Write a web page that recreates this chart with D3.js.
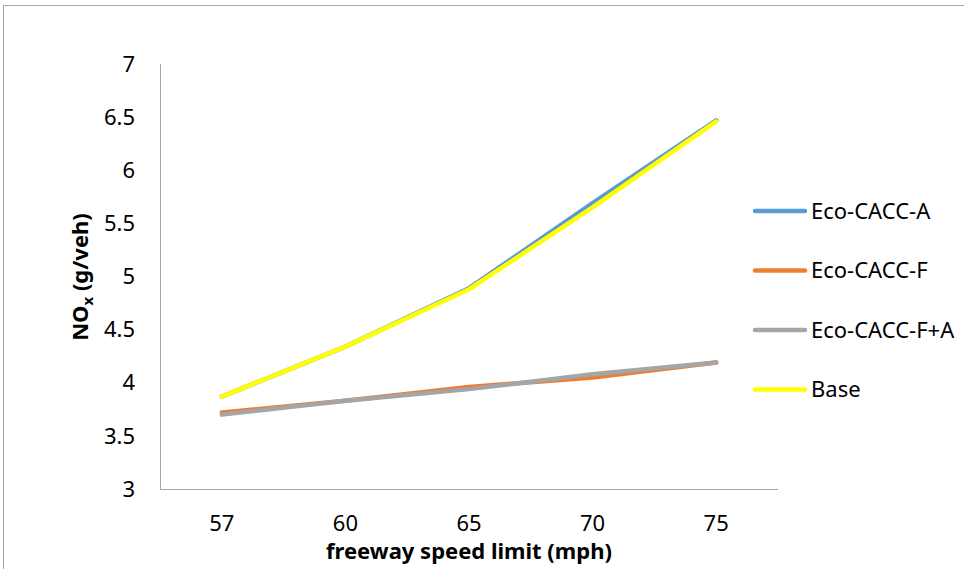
<!DOCTYPE html>
<html>
<head>
<meta charset="utf-8">
<script src="https://cdn.jsdelivr.net/npm/d3@7"></script>
<style>
  body { margin: 0; background: #fff; }
  svg { display: block; font-family: 'Noto Sans', sans-serif; }
</style>
</head>
<body>
<svg width="964" height="569"></svg>
<script>
const speeds = ['57', '60', '65', '70', '75']
const ecoA = [3.87, 4.34, 4.89, 5.69, 6.47]
const ecoF = [3.72, 3.83, 3.96, 4.05, 4.19]
const ecoFA = [3.70, 3.83, 3.94, 4.08, 4.19]
const base = [3.87, 4.34, 4.88, 5.65, 6.46]
const yTicks = [3, 3.5, 4, 4.5, 5, 5.5, 6, 6.5, 7]

const series = [
  { name: 'Eco-CACC-A', values: ecoA, color: '#5B9BD5' },
  { name: 'Eco-CACC-F', values: ecoF, color: '#ED7D31' },
  { name: 'Eco-CACC-F+A', values: ecoFA, color: '#A5A5A5' },
  { name: 'Base', values: base, color: '#FFFF00' },
]

const svg = d3.select('svg')

// outer chart border
svg.append('rect')
  .attr('x', 3.5).attr('y', 5.5)
  .attr('width', 1000).attr('height', 600)
  .attr('fill', 'none')
  .attr('stroke', '#a6a6a6')

const x = d3.scalePoint()
  .domain(speeds)
  .range([160, 778])
  .padding(0.5)

const y = d3.scaleLinear()
  .domain([3, 7])
  .range([489, 64])

// axes lines
svg.append('line')
  .attr('x1', 160.5).attr('x2', 160.5)
  .attr('y1', 64).attr('y2', 489.5)
  .attr('stroke', '#a6a6a6').attr('stroke-width', 1)
svg.append('line')
  .attr('x1', 160).attr('x2', 778)
  .attr('y1', 489.5).attr('y2', 489.5)
  .attr('stroke', '#a6a6a6').attr('stroke-width', 1)

svg.selectAll('.ytick')
  .data(yTicks)
  .enter()
  .append('text')
  .attr('class', 'ytick')
  .attr('x', 135)
  .attr('y', d => y(d))
  .attr('dy', '0.35em')
  .attr('text-anchor', 'end')
  .attr('font-size', 22)
  .text(d => d)

svg.selectAll('.xtick')
  .data(speeds)
  .enter()
  .append('text')
  .attr('class', 'xtick')
  .attr('x', d => x(d))
  .attr('y', 523)
  .attr('dy', '0.35em')
  .attr('text-anchor', 'middle')
  .attr('font-size', 22)
  .text(d => d)

svg.append('text')
  .attr('x', 469)
  .attr('y', 551)
  .attr('dy', '0.35em')
  .attr('text-anchor', 'middle')
  .attr('font-size', 22)
  .attr('font-weight', 'bold')
  .text('freeway speed limit (mph)')

const ylab = svg.append('text')
  .attr('transform', 'translate(80,277) rotate(-90)')
  .attr('dy', '0.35em')
  .attr('text-anchor', 'middle')
  .attr('font-size', 22)
  .attr('font-weight', 'bold')
ylab.append('tspan').text('NO')
ylab.append('tspan').attr('font-size', 15).attr('dy', 5).text('x')
ylab.append('tspan').attr('dy', -5).text(' (g/veh)')

const line = d3.line()
  .x((d, i) => x(speeds[i]))
  .y(d => y(d))

svg.selectAll('.series')
  .data(series)
  .enter()
  .append('path')
  .attr('class', 'series')
  .attr('d', d => line(d.values))
  .attr('fill', 'none')
  .attr('stroke', d => d.color)
  .attr('stroke-width', 4.5)
  .attr('stroke-linecap', 'round')
  .attr('stroke-linejoin', 'round')

const legend = svg.selectAll('.legend')
  .data(series)
  .enter()
  .append('g')
  .attr('class', 'legend')
  .attr('transform', (d, i) => `translate(753,${211 + i * 59.5})`)

legend.append('line')
  .attr('x1', 2).attr('x2', 52)
  .attr('stroke', d => d.color)
  .attr('stroke-width', 4.5)
  .attr('stroke-linecap', 'round')

legend.append('text')
  .attr('x', 58)
  .attr('dy', '0.35em')
  .attr('font-size', 22)
  .text(d => d.name)
</script>
</body>
</html>
